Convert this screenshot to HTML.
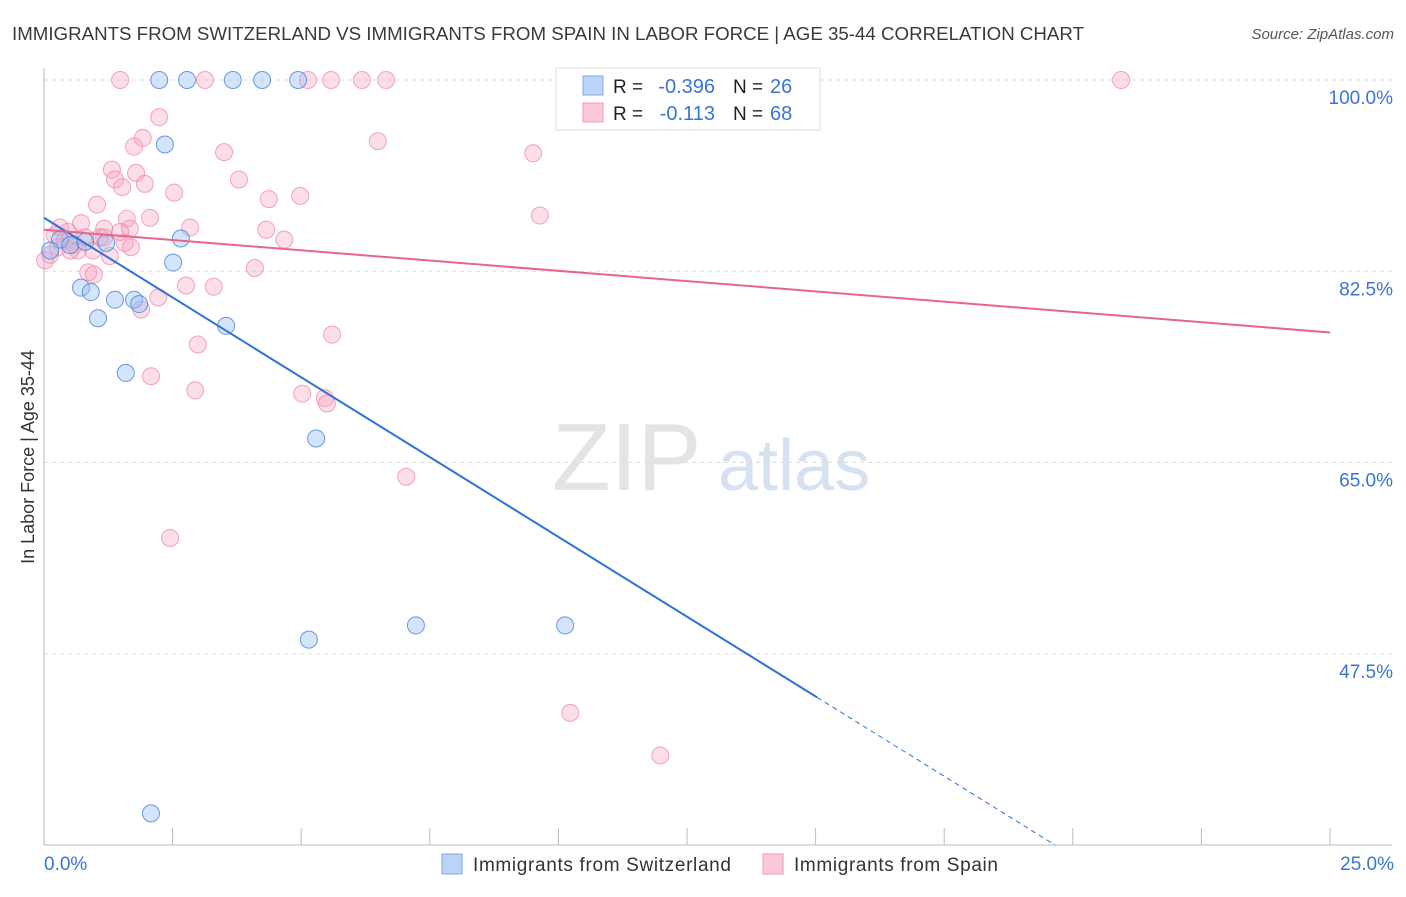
<!DOCTYPE html>
<html><head><meta charset="utf-8"><style>
body{margin:0;background:#fff;font-family:"Liberation Sans",sans-serif;}
svg text{font-family:"Liberation Sans",sans-serif;}
</style></head><body>
<svg id="chart" width="1406" height="892" xmlns="http://www.w3.org/2000/svg">
<text x="12" y="40" font-size="18" fill="#3a3a3a" textLength="1072" lengthAdjust="spacingAndGlyphs">IMMIGRANTS FROM SWITZERLAND VS IMMIGRANTS FROM SPAIN IN LABOR FORCE | AGE 35-44 CORRELATION CHART</text>
<text x="1394" y="39" font-size="15" fill="#555" text-anchor="end" font-style="italic">Source: ZipAtlas.com</text>
<text transform="translate(34,457) rotate(-90)" font-size="18" fill="#333" text-anchor="middle">In Labor Force | Age 35-44</text>
<g><text x="552" y="490" font-size="96" fill="#e4e4e4" font-family="Liberation Serif">ZIP</text><text x="718" y="490" font-size="72" fill="#d6e2f2">atlas</text></g>
<g id="grid"></g><g id="axes"></g><g id="pts"></g><g id="lines"></g>
<g>
<rect x="556" y="68" width="264" height="62" fill="#fff" stroke="#ddd"/>
<rect x="583" y="76" width="20" height="19" fill="#bcd4f5" stroke="#7fa9e8"/>
<rect x="583" y="103" width="20" height="19" fill="#fbc9d8" stroke="#f09ab4"/>
<text x="613" y="93" font-size="19" fill="#222">R =</text>
<text x="715" y="93" font-size="20" fill="#3a74d4" text-anchor="end">-0.396</text>
<text x="733" y="93" font-size="19" fill="#222">N =</text>
<text x="770" y="93" font-size="20" fill="#3a74d4">26</text>
<text x="613" y="120" font-size="19" fill="#222">R =</text>
<text x="715" y="120" font-size="20" fill="#3a74d4" text-anchor="end">-0.113</text>
<text x="733" y="120" font-size="19" fill="#222">N =</text>
<text x="770" y="120" font-size="20" fill="#3a74d4">68</text>
</g>
<g>
<rect x="442" y="854" width="20" height="20" fill="#bcd4f5" stroke="#7fa9e8"/>
<text x="473" y="871" font-size="19" fill="#333" textLength="258">Immigrants from Switzerland</text>
<rect x="763" y="854" width="20" height="20" fill="#fbc9d8" stroke="#f09ab4"/>
<text x="794" y="871" font-size="19" fill="#333" textLength="204">Immigrants from Spain</text>
</g>
</svg>
<script>
const yTicks=[100,82.5,65,47.5];
const yTickLabels=["100.0%","82.5%","65.0%","47.5%"];
const xTicks=[0,2.5,5,7.5,10,12.5,15,17.5,20,22.5,25];
const xEndLabels=["0.0%","25.0%"];
const swX=[2.24,2.78,3.67,4.24,4.94,2.35,2.66,1.21,2.51,0.72,0.91,1.38,1.75,1.85,1.05,3.54,1.59,5.29,5.15,7.23,10.13,2.08,0.31,0.51,0.12,0.8];
const swY=[100,100,100,100,100,94.1,85.5,85.1,83.3,81.0,80.6,79.9,79.9,79.5,78.2,77.5,73.2,67.2,48.8,50.1,50.1,32.9,85.4,84.9,84.4,85.2];
const spX=[1.48,3.13,5.13,5.58,6.18,6.65,20.94,2.24,1.92,6.49,3.50,9.51,1.32,1.75,1.79,1.38,1.52,1.96,3.79,2.53,4.37,4.98,1.03,1.61,2.06,0.72,2.84,9.64,4.32,4.67,1.17,1.67,0.31,1.57,1.69,0.95,1.28,4.10,0.86,0.97,2.76,3.30,2.22,1.89,5.60,2.99,2.08,2.94,5.02,5.46,5.50,7.04,2.45,10.23,11.98,0.12,0.21,0.41,0.60,0.02,0.47,1.09,0.80,0.66,0.27,1.48,1.17,0.51];
const spY=[100,100,100,100,100,100,100,96.6,94.7,94.4,93.4,93.3,91.8,93.9,91.5,90.9,90.2,90.5,90.9,89.7,89.1,89.4,88.6,87.3,87.4,86.9,86.5,87.6,86.3,85.4,86.4,86.4,86.5,85.1,84.7,84.4,83.9,82.8,82.4,82.2,81.2,81.1,80.1,79.0,76.7,75.8,72.9,71.6,71.3,70.9,70.4,63.7,58.1,42.1,38.2,84.0,85.8,85.4,84.9,83.5,86.1,85.6,85.6,84.4,84.7,86.1,85.6,84.4];
const swTrend=[87.4,-2.92];
const spTrend=[86.3,-0.376];
const X=v=>44+v*51.44, Y=v=>80+(100-v)*10.93;
const NS="http://www.w3.org/2000/svg";
function mk(t,a,p){const e=document.createElementNS(NS,t);for(const k in a)e.setAttribute(k,a[k]);p.appendChild(e);return e;}
const g=document.getElementById('grid'),ax=document.getElementById('axes'),pts=document.getElementById('pts'),ln=document.getElementById('lines');
yTicks.forEach((t,i)=>{
 const l=mk('line',{x1:44,x2:1392,y1:Y(t),y2:Y(t),stroke:'#ddd','stroke-dasharray':'4,4'},g);
 
 
 const tx=mk('text',{x:1393,y:Y(t)+24,'font-size':19,fill:'#3a74d4','text-anchor':'end'},g);tx.textContent=yTickLabels[i];
 
 
});
let a=mk('line',{x1:44,x2:44,y1:68,y2:845,stroke:'#bbb'},ax);


a=mk('line',{x1:44,x2:1392,y1:845,y2:845,stroke:'#bbb'},ax);


xTicks.forEach(t=>{const l=mk('line',{x1:X(t),x2:X(t),y1:828,y2:845,stroke:'#bbb'},ax);
 
 });
[[0,'start'],[25,'end']].forEach((p,i)=>{const t=mk('text',{x:X(p[0])+(i?64:0),y:870,'font-size':19,fill:'#3a74d4','text-anchor':p[1]},ax);t.textContent=xEndLabels[i];
 
 });
spX.forEach((x,i)=>{const c=mk('circle',{cx:X(x),cy:Y(spY[i]),r:8.5,fill:'rgba(246,160,188,0.35)',stroke:'rgba(236,130,165,0.7)','stroke-width':1},pts);
 
 });
swX.forEach((x,i)=>{const c=mk('circle',{cx:X(x),cy:Y(swY[i]),r:8.5,fill:'rgba(150,190,240,0.4)',stroke:'rgba(70,130,220,0.8)','stroke-width':1},pts);
 
 });
const swEnd=15.03, swBottom=(swTrend[0]-30)/(-swTrend[1]);
let t1=mk('line',{x1:X(0),y1:Y(swTrend[0]),x2:X(swEnd),y2:Y(swTrend[0]+swTrend[1]*swEnd),stroke:'#2f72d6','stroke-width':2},ln);


t1=mk('line',{x1:X(swEnd),y1:Y(swTrend[0]+swTrend[1]*swEnd),x2:X(swBottom),y2:Y(30),stroke:'#2f72d6','stroke-width':1,'stroke-dasharray':'5,4'},ln);


t1=mk('line',{x1:X(0),y1:Y(spTrend[0]),x2:X(25),y2:Y(spTrend[0]+spTrend[1]*25),stroke:'#e8648e','stroke-width':2},ln);


</script>
</body></html>
